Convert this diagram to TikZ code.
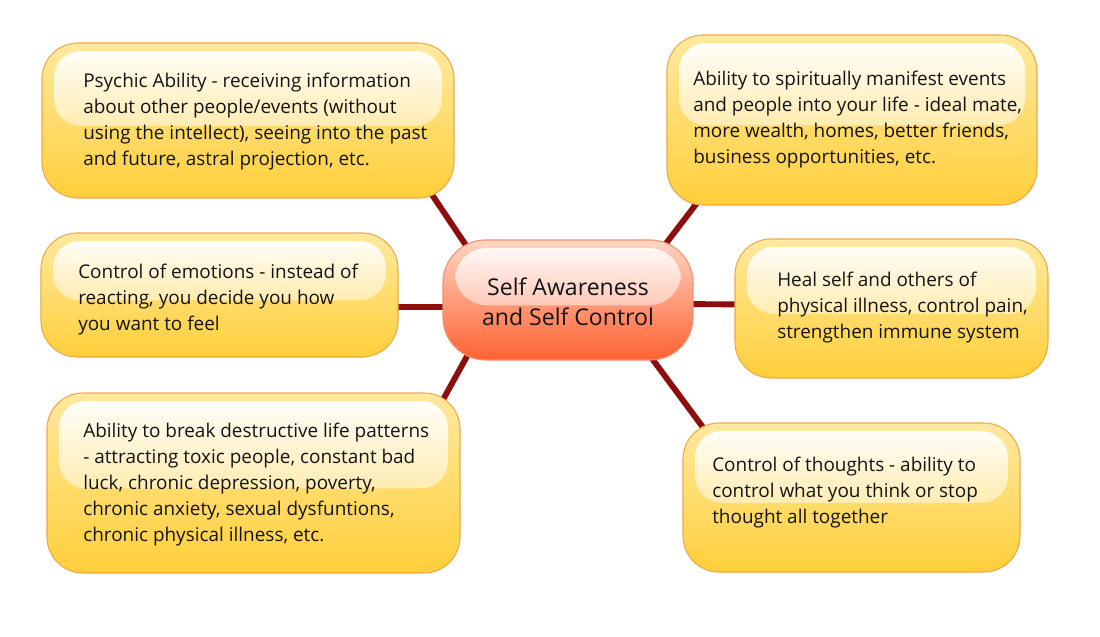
\documentclass[tikz,border=0pt]{standalone}
\usepackage{fontspec}
\setmainfont{Open Sans}
\usetikzlibrary{calc}
\pgfdeclarelayer{paper}
\pgfdeclarelayer{background}
\pgfsetlayers{paper,background,main}
\definecolor{boxtop}{HTML}{FFE9A0}
\definecolor{boxbot}{HTML}{FFCF3A}
\definecolor{boxline}{HTML}{EDA94A}
\definecolor{ctop}{HTML}{FFD6C4}
\definecolor{cbot}{HTML}{FF6232}
\definecolor{cline}{HTML}{F29070}
\definecolor{linkred}{HTML}{8E0E0E}
\definecolor{txt}{HTML}{141414}
\tikzset{
  gloss/.style 2 args={path picture={
    \shade[top color=white, bottom color=#2, rounded corners=#1]
      ($(path picture bounding box.north west)+(9pt,-6pt)$) rectangle
      ($(path picture bounding box.east)+(-9pt,-4pt)$);}},
  box/.style={draw=boxline, line width=0.8pt, rounded corners=27pt,
    top color=boxtop, bottom color=boxbot, gloss={20pt}{boxtop!50!boxbot}},
  hub/.style={draw=cline, line width=0.8pt, rounded corners=32pt,
    top color=ctop, bottom color=cbot, gloss={24pt}{ctop!50!cbot}},
  boxtext/.style={anchor=west, align=left, text=txt, inner sep=0pt,
    font=\fontsize{14.2}{19.5}\selectfont},
  hubtext/.style={align=center, text=txt, inner sep=0pt,
    font=\fontsize{17.3}{22.5}\selectfont},
  link/.style={draw=linkred, line width=4.4pt}
}
\newcommand\rbox[6]{\node[#6, minimum width={(#4-#2)*0.75pt}, minimum height={(#5-#3)*0.75pt}, inner sep=0pt] (#1) at ({(#2+#4)/2},{(#3+#5)/2}) {};}
\begin{document}
\begin{tikzpicture}[x=0.75pt,y=-0.75pt]
\begin{pgfonlayer}{paper}
\fill[white] (0,0) rectangle (1100,636);
\end{pgfonlayer}
\useasboundingbox (0,0) rectangle (1100,636);
% boxes
\rbox{c}{443}{240}{693}{360}{hub}
\rbox{b1}{42}{43}{454}{198}{box}
\rbox{b2}{667}{35}{1037}{205}{box}
\rbox{b3}{41}{233}{398}{357}{box}
\rbox{b4}{735}{239}{1048}{378}{box}
\rbox{b5}{47}{393}{460}{573}{box}
\rbox{b6}{683}{423}{1020}{572}{box}
% texts
\node[hubtext] (tc) at (568,302) {Self Awareness\\and Self Control};
\node[boxtext] (t1) at (83,122) {Psychic Ability - receiving information\\about other people/events (without\\using the intellect), seeing into the past\\and future, astral projection, etc.};
\node[boxtext] (t2) at (693,120) {Ability to spiritually manifest events\\and people into your life - ideal mate,\\more wealth, homes, better friends,\\business opportunities, etc.};
\node[boxtext] (t3) at (78,300) {Control of emotions - instead of\\reacting, you decide you how\\you want to feel};
\node[boxtext] (t4) at (777,308) {Heal self and others of\\physical illness, control pain,\\strengthen immune system};
\node[boxtext] (t5) at (83,485) {Ability to break destructive life patterns\\- attracting toxic people, constant bad\\luck, chronic depression, poverty,\\chronic anxiety, sexual dysfuntions,\\chronic physical illness, etc.};
\node[boxtext] (t6) at (712,493) {Control of thoughts - ability to\\control what you think or stop\\thought all together};
% connectors
\begin{pgfonlayer}{background}
\draw[link] ($(c.north west)+(31,17)$) -- ($(b1.south east)+(-30,-15)$);
\draw[link] ($(c.north east)+(-36,15)$) -- ($(b2.south west)+(37,-11)$);
\draw[link] ($(b3.east)+(-10,12)$) -- ($(c.west)+(10,7)$);
\draw[link] ($(c.east)+(-10,4)$) -- ($(b4.west)+(10,-4)$);
\draw[link] ($(c.south west)+(31,-16)$) -- ($(b5.north east)+(-24,19)$);
\draw[link] ($(c.south east)+(-46,-8)$) -- ($(b6.north west)+(28,15)$);
\end{pgfonlayer}
\end{tikzpicture}
\end{document}
